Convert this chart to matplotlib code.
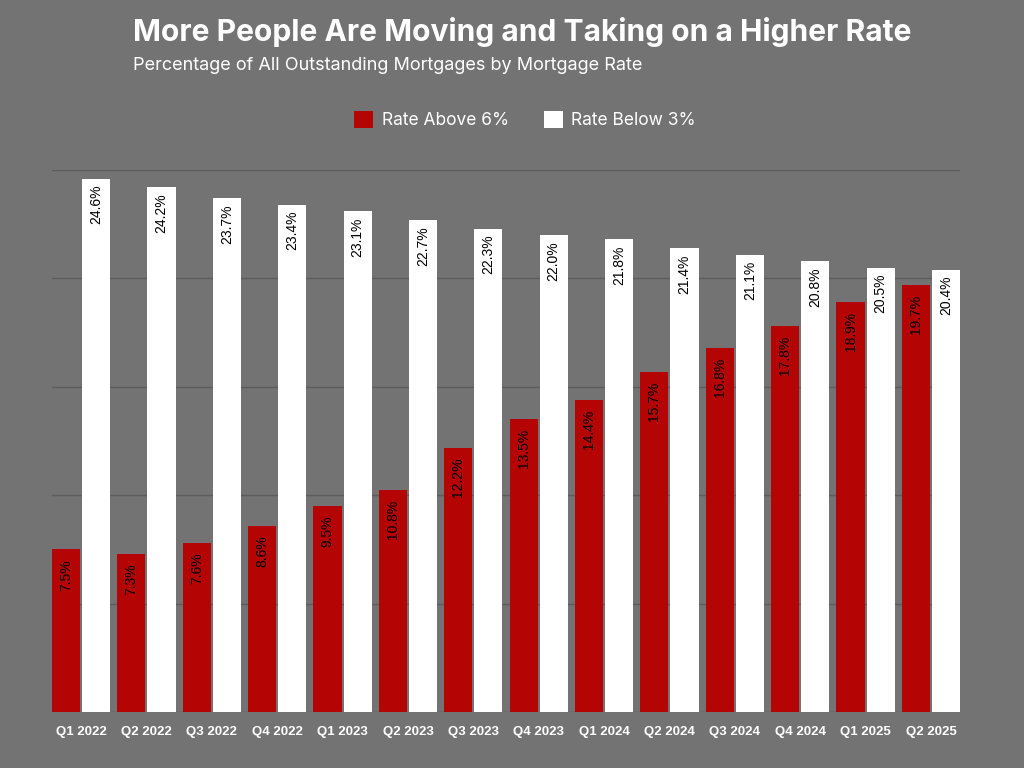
import matplotlib.pyplot as plt
import numpy as np

quarters = ['Q1 2022', 'Q2 2022', 'Q3 2022', 'Q4 2022', 'Q1 2023', 'Q2 2023',
            'Q3 2023', 'Q4 2023', 'Q1 2024', 'Q2 2024', 'Q3 2024', 'Q4 2024',
            'Q1 2025', 'Q2 2025']
# printed labels
above_6 = [7.5, 7.3, 7.6, 8.6, 9.5, 10.8, 12.2, 13.5, 14.4, 15.7, 16.8, 17.8, 18.9, 19.7]
below_3 = [24.6, 24.2, 23.7, 23.4, 23.1, 22.7, 22.3, 22.0, 21.8, 21.4, 21.1, 20.8, 20.5, 20.4]
# bar heights as drawn in the source (two red bars don't match their labels)
above_6_height = [7.5, 7.3, 7.8, 8.6, 9.5, 10.25, 12.2, 13.5, 14.4, 15.7, 16.8, 17.8, 18.9, 19.7]

BG = '#737373'
RED = '#b50404'
GRID = '#5c5c5c'

fig = plt.figure(figsize=(10.24, 7.68), dpi=100, facecolor=BG)
ax = fig.add_axes([52 / 1024, 1 - 712 / 768, 908 / 1024, 542 / 768])
ax.set_facecolor(BG)

x = np.arange(len(quarters))
w = 0.43
off = 0.23
bars_red = ax.bar(x - off, above_6_height, w, color=RED, zorder=3, label='Rate Above 6%')
bars_white = ax.bar(x + off, below_3, w, color='white', zorder=3, label='Rate Below 3%')

# red labels sit a little lower inside their bars than the white ones
for bars, vals, pad in [(bars_red, above_6, -7), (bars_white, below_3, -4.5)]:
    for b, v in zip(bars, vals):
        ax.annotate(f'{v:.1f}%', (b.get_x() + b.get_width() / 2, b.get_height()),
                    xytext=(0, pad), textcoords='offset points',
                    rotation=90, ha='center', va='top', fontsize=10,
                    color='black', family='Liberation Sans', zorder=4)

ax.set_xlim(-off - w / 2, len(quarters) - 1 + off + w / 2)
ax.set_ylim(0, 25)
ax.set_yticks(np.arange(0, 26, 5))
ax.set_yticklabels([])
ax.tick_params(axis='y', length=0)
ax.tick_params(axis='x', length=0, pad=10)
ax.grid(axis='y', color=GRID, linewidth=1, zorder=0)
for s in ax.spines.values():
    s.set_visible(False)
ax.set_xticks(x)
ax.set_xticklabels(quarters, color='white', fontweight='bold', fontsize=9.5,
                   family='Liberation Sans')

fig.text(133 / 1024, 1 - 32 / 768, 'More People Are Moving and Taking on a Higher Rate',
         color='white', fontsize=21.6, fontweight='bold', family='Inter',
         ha='left', va='center')
fig.text(133 / 1024, 1 - 66 / 768, 'Percentage of All Outstanding Mortgages by Mortgage Rate',
         color='white', fontsize=13, family='Inter', ha='left', va='center')

leg = fig.legend(loc='center', bbox_to_anchor=(525 / 1024, 1 - 120 / 768), ncol=2,
                 frameon=False, handlelength=1.1, handleheight=1.1,
                 columnspacing=2.0, handletextpad=0.5,
                 prop={'family': 'Inter', 'size': 12.5})
for t in leg.get_texts():
    t.set_color('white')

fig.savefig('out.png', dpi=100, facecolor=BG)
